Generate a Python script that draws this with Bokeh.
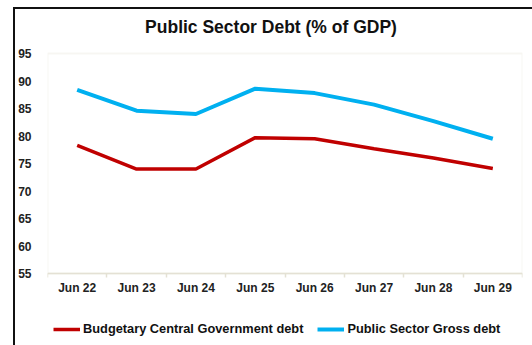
from bokeh.plotting import figure
from bokeh.models import FixedTicker, Legend, LegendItem, Range1d, Label, BoxAnnotation
from bokeh.embed import file_html
from bokeh.resources import INLINE

periods = ["Jun 22", "Jun 23", "Jun 24", "Jun 25", "Jun 26", "Jun 27", "Jun 28", "Jun 29"]
central_govt_debt = [78.3, 74.0, 74.0, 79.7, 79.5, 77.7, 76.0, 74.1]
public_sector_gross_debt = [88.4, 84.6, 84.0, 88.6, 87.8, 85.7, 82.7, 79.5]
y_ticks = [55, 60, 65, 70, 75, 80, 85, 90, 95]

FONT = "Liberation Sans"
AXIS_GRAY = "#e4e1d4"

x_pos = [i + 0.5 for i in range(len(periods))]
y_lo, y_hi = y_ticks[0], y_ticks[-1]

# frame spans the whole canvas height; the plot box (55..95) is drawn inside it
p = figure(x_range=Range1d(0, len(periods)), y_range=Range1d(41.91, 103.0),
           frame_width=475, frame_height=336, output_backend="svg", toolbar_location=None,
           min_border_left=31, min_border_right=10, min_border_top=0, min_border_bottom=0)
p.styles = {"border-left": "2px solid #111", "border-top": "2px solid #111",
            "margin-left": "13px", "margin-top": "7px"}

p.background_fill_color = "white"
p.border_fill_color = "white"
p.outline_line_color = None
p.xgrid.grid_line_color = None
p.ygrid.grid_line_color = None

box = BoxAnnotation(left=0, right=len(periods), bottom=y_lo, top=y_hi,
                    fill_color=None, line_color=AXIS_GRAY, line_width=2)
p.add_layout(box)

title = Label(x=3.764, y=99.73, text="Public Sector Debt (% of GDP)",
              text_align="center", text_baseline="middle",
              text_font=FONT, text_font_size="17.5px", text_font_style="bold", text_color="#111")
p.add_layout(title)

p.yaxis.ticker = FixedTicker(ticks=y_ticks)
p.yaxis.axis_line_color = None
p.yaxis.major_tick_line_color = None
p.yaxis.minor_tick_line_color = None
p.yaxis.major_label_text_font = FONT
p.yaxis.major_label_text_font_style = "bold"
p.yaxis.major_label_text_font_size = "12px"
p.yaxis.major_label_text_color = "#222"
p.yaxis.major_label_standoff = 10

p.xaxis.fixed_location = y_lo
p.xaxis.ticker = FixedTicker(ticks=x_pos, minor_ticks=list(range(len(periods) + 1)))
p.xaxis.major_label_overrides = {x: lab for x, lab in zip(x_pos, periods)}
p.xaxis.axis_line_color = AXIS_GRAY
p.xaxis.axis_line_width = 1.5
p.xaxis.major_tick_line_color = None
p.xaxis.major_tick_out = 0
p.xaxis.major_tick_in = 0
p.xaxis.minor_tick_line_color = AXIS_GRAY
p.xaxis.minor_tick_line_width = 1.5
p.xaxis.minor_tick_in = 0
p.xaxis.minor_tick_out = 4
p.xaxis.major_label_text_font = FONT
p.xaxis.major_label_text_font_style = "bold"
p.xaxis.major_label_text_font_size = "12px"
p.xaxis.major_label_text_color = "#222"
p.xaxis.major_label_standoff = 3

r1 = p.line(x_pos, central_govt_debt, line_color="#c00000", line_width=3.5)
r2 = p.line(x_pos, public_sector_gross_debt, line_color="#00b0f0", line_width=4)

legend = Legend(items=[LegendItem(label="Budgetary Central Government debt", renderers=[r1]),
                       LegendItem(label="Public Sector Gross debt", renderers=[r2])],
                orientation="horizontal", location=(6, 9),
                border_line_color=None, background_fill_alpha=0,
                label_text_font=FONT, label_text_font_style="bold", label_text_font_size="12.8px",
                label_text_color="#111", glyph_width=27, glyph_height=10, spacing=14,
                label_standoff=3, margin=0, padding=4)
p.add_layout(legend, "center")

open("out.html", "w").write(file_html(p, INLINE))
